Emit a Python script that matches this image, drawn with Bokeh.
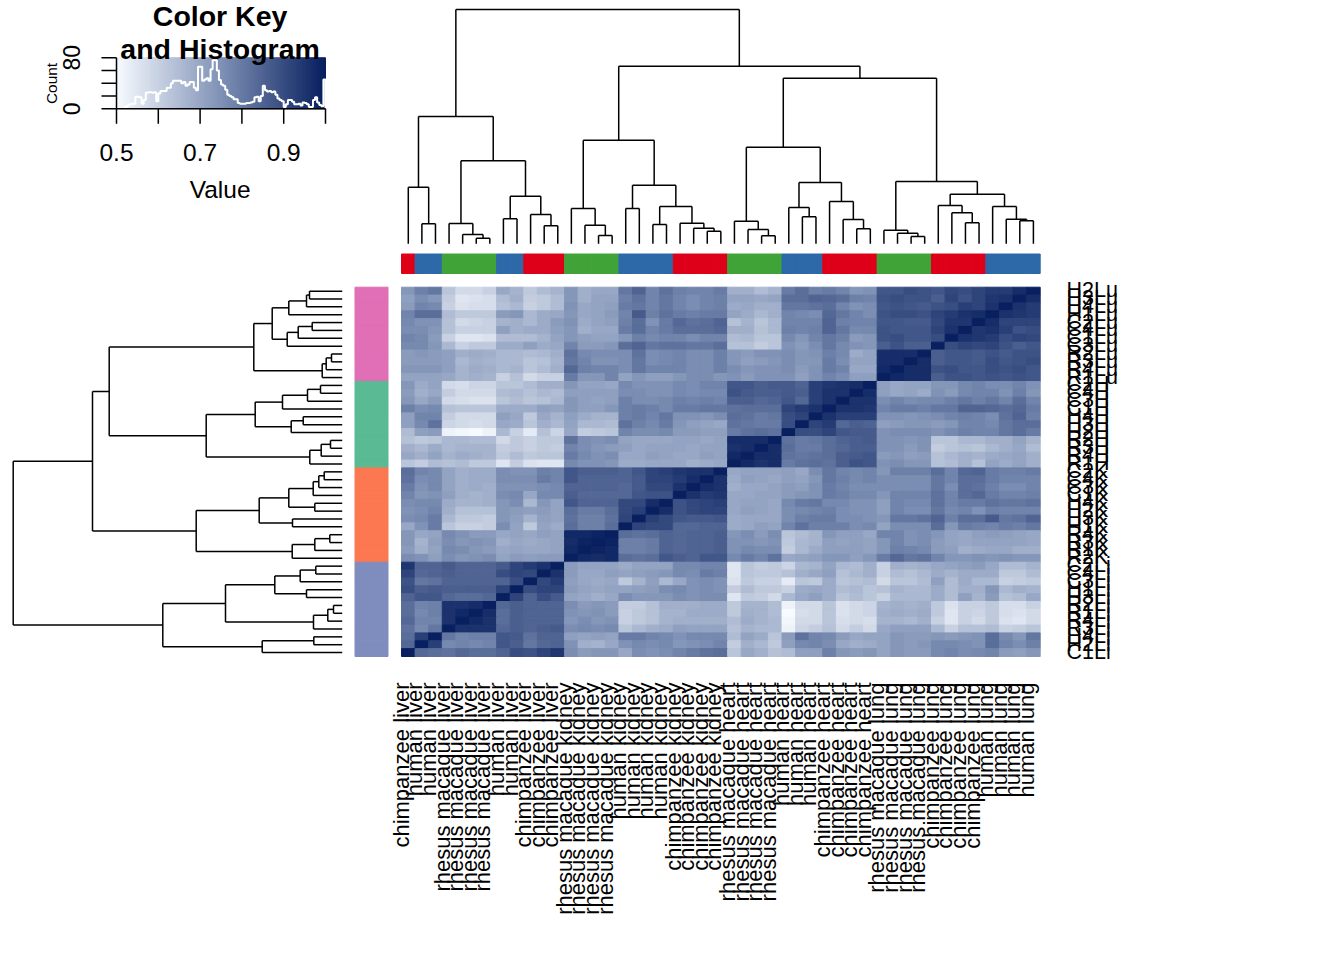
from math import pi
from bokeh.plotting import figure
from bokeh.models import ColumnDataSource, LinearColorMapper, Range1d
from bokeh.transform import transform
from bokeh.core.properties import value
from bokeh.embed import file_html
from bokeh.resources import INLINE

# ---------- labels ----------
COL_LABELS = (["chimpanzee liver"] + ["human liver"] * 2 + ["rhesus macaque liver"] * 4
              + ["human liver"] * 2 + ["chimpanzee liver"] * 3
              + ["rhesus macaque kidney"] * 4 + ["human kidney"] * 4 + ["chimpanzee kidney"] * 4
              + ["rhesus macaque heart"] * 4 + ["human heart"] * 3 + ["chimpanzee heart"] * 4
              + ["rhesus macaque lung"] * 4 + ["chimpanzee lung"] * 4 + ["human lung"] * 4)
ROW_LABELS = ["H2Lu", "H3Lu", "H4Lu", "H1Lu", "C2Lu", "C4Lu", "C1Lu", "C3Lu", "R2Lu", "R3Lu", "R4Lu", "R1Lu",
              "C2H", "C4H", "C3H", "C1H", "H4H", "H3H", "H2H", "R2H", "R3H", "R4H", "R1H",
              "C2K", "C4K", "C3K", "C1K", "H4K", "H2K", "H3K", "H1K", "R4K", "R3K", "R1K", "R2K",
              "C2Li", "C4Li", "C3Li", "H1Li", "H3Li", "R2Li", "R1Li", "R4Li", "R3Li", "H4Li", "H2Li", "C1Li"]

# ---------- correlation x 100, lower triangle, one row per column index ----------
R46 = [74, 79,81, 63,58,58,60, 70,67, 62,65,67, 74,68,70,70, 81,85,78,82, 79,78,78,80, 68,68,65,67, 80,83,79, 80,78,74,75, 88,88,90,89, 88,91,90,92, 94,94,97,100]
R45 = [72, 76,74, 61,55,56,57, 65,68, 61,62,65, 74,68,71,71, 79,82,78,81, 78,76,78,79, 71,71,70,71, 83,83,85, 84,83,79,78, 89,90,89,89, 86,92,89,92, 95,96,100]
R44 = [73, 78,77, 60,56,57,57, 64,66, 60,62,65, 75,70,71,72, 80,81,78,81, 78,76,78,79, 69,70,68,68, 81,81,82, 83,78,75,76, 88,89,88,87, 89,90,93,92, 96,100]
R43 = [78, 83,83, 65,62,62,62, 73,74, 66,69,70, 74,70,71,73, 78,87,79,82, 80,79,80,80, 71,69,66,68, 78,77,76, 84,81,78,76, 89,90,90,89, 92,94,96,97, 100]
R42 = [77, 75,75, 64,58,59,60, 67,68, 66,69,73, 75,69,71,72, 79,83,75,80, 84,82,83,85, 64,67,63,66, 78,78,78, 85,79,78,78, 88,88,87,87, 91,95,95,100]
R41 = [76, 76,74, 64,60,60,60, 72,68, 69,69,72, 74,68,70,70, 80,83,78,80, 83,83,83,84, 68,68,64,66, 79,78,79, 85,81,77,77, 89,88,88,88, 92,96,100]
R40 = [78, 77,73, 60,55,55,56, 65,65, 65,67,71, 74,72,71,71, 74,79,77,78, 78,76,78,78, 65,66,63,63, 77,74,78, 81,79,73,74, 89,90,88,88, 90,100]
R39 = [77, 77,74, 66,60,62,62, 69,69, 72,69,70, 78,73,73,74, 83,85,81,82, 82,81,81,83, 64,64,61,63, 75,73,76, 81,77,75,74, 86,89,86,86, 100]
R38 = [73, 74,73, 72,68,69,68, 66,66, 65,66,68, 82,77,76,76, 76,82,76,77, 78,76,76,79, 74,73,75,75, 76,74,75, 79,77,69,71, 97,97,97,100]
R37 = [73, 73,73, 72,66,68,67, 66,66, 63,64,67, 81,78,75,75, 76,81,76,77, 78,76,76,79, 74,72,73,74, 76,74,74, 80,76,71,71, 97,97,100]
R36 = [74, 74,74, 72,67,69,68, 66,67, 63,65,68, 84,79,78,78, 76,81,78,78, 78,76,76,79, 76,74,75,75, 76,73,75, 80,78,70,70, 98,100]
R35 = [71, 71,71, 70,67,68,67, 60,64, 58,60,60, 80,74,74,78, 71,74,72,72, 74,76,76,74, 75,73,75,75, 75,72,75, 78,76,72,72, 100]
R34 = [74, 69,71, 58,57,59,59, 63,63, 65,68,68, 74,71,71,70, 77,75,75,75, 77,76,78,78, 88,88,86,87, 87,85,93, 95,96,97,100]
R33 = [73, 68,70, 61,58,58,58, 65,66, 64,66,65, 72,72,72,72, 76,76,75,75, 77,76,77,77, 89,87,86,86, 87,86,93, 96,96,100]
R32 = [74, 70,73, 58,57,56,56, 63,65, 63,64,66, 74,72,71,72, 79,76,76,77, 79,78,79,78, 86,86,84,85, 88,84,93, 96,100]
R31 = [79, 76,77, 64,63,63,63, 69,69, 69,72,71, 74,72,72,74, 79,80,79,77, 80,80,81,81, 82,83,83,83, 92,94,96, 100]
R30 = [72, 78,78, 61,58,58,58, 72,70, 62,70,67, 72,69,67,67, 79,80,78,81, 75,75,74,76, 83,82,80,81, 90,92,100]
R29 = [72, 77,82, 59,58,57,58, 70,69, 63,68,66, 71,66,66,65, 82,79,77,80, 74,72,71,70, 82,81,80,80, 90,100]
R28 = [65, 72,73, 52,51,50,52, 66,60, 54,64,59, 70,61,62,63, 78,76,76,77, 73,73,72,72, 80,82,83,82, 100]
R27 = [64, 62,63, 66,66,65,65, 58,62, 60,62,62, 82,76,75,76, 71,70,70,70, 71,71,70,71, 97,97,97,100]
R26 = [68, 66,69, 66,67,67,67, 61,62, 60,62,61, 78,76,74,73, 72,70,71,71, 71,70,71,71, 96,97,100]
R25 = [70, 68,71, 67,69,68,67, 62,65, 62,63,63, 80,77,75,76, 70,70,72,71, 70,70,72,71, 98,100]
R24 = [63, 61,65, 64,65,62,62, 55,61, 56,55,55, 77,75,75,74, 69,69,70,70, 70,68,69,70, 100]
R23 = [83, 78,77, 71,68,69,69, 76,75, 75,79,78, 88,86,86,86, 85,88,92,93, 95,96,96,100]
R22 = [82, 76,77, 71,68,69,69, 76,76, 76,80,78, 88,85,85,85, 85,87,92,92, 94,97,100]
R21 = [80, 75,77, 71,68,69,68, 75,75, 75,76,77, 85,85,85,85, 84,87,91,91, 96,100]
R20 = [78, 74,75, 72,68,67,68, 76,77, 70,77,77, 86,84,84,84, 84,88,89,89, 100]
R19 = [76, 77,77, 69,67,67,68, 74,76, 66,74,71, 88,85,85,85, 91,91,97,100]
R18 = [75, 76,78, 68,64,64,64, 74,73, 72,73,71, 83,80,80,83, 91,93,100]
R17 = [76, 77,80, 66,62,62,61, 74,72, 67,72,71, 82,79,79,82, 92,100]
R16 = [70, 75,80, 63,60,60,61, 76,71, 62,71,69, 83,79,79,83, 100]
R15 = [74, 70,71, 77,75,73,73, 70,71, 70,72,71, 98,98,99,100]
R14 = [74, 67,72, 76,74,75,74, 68,70, 69,70,71, 97,99,100]
R13 = [73, 68,71, 77,76,74,73, 70,71, 70,70,71, 98,100]
R12 = [76, 75,72, 76,74,75,76, 71,73, 72,73,73, 100]
R11 = [95, 85,85, 87,85,85,85, 87,92, 94,96,100]
R10 = [92, 84,85, 86,85,85,85, 90,92, 91,100]
R9 = [89, 81,82, 85,85,85,85, 85,90, 100]
R8 = [90, 86,87, 86,86,86,86, 92,100]
R7 = [85, 88,88, 84,83,83,84, 100]
R6 = [83, 78,79, 96,96,97,100]
R5 = [83, 77,79, 96,98,100]
R4 = [84, 78,78, 96,100]
R3 = [82, 77,81, 100]
R2 = [83, 93,100]
R1 = [84, 100]
R0 = [100]
CORR_ROWS = [R0,R1,R2,R3,R4,R5,R6,R7,R8,R9,R10,R11,R12,R13,R14,R15,R16,R17,R18,R19,R20,R21,R22,R23,
             R24,R25,R26,R27,R28,R29,R30,R31,R32,R33,R34,R35,R36,R37,R38,R39,R40,R41,R42,R43,R44,R45,R46]

# ---------- dendrograms: (height, left, right), integers are leaves ----------
TOP_TREE = (234.3,
    (127.3, (56.6, 0, (20, 1, 2)),
            (83, (20.3, 3, (9.3, 4, (5.6, 5, 6))),
                 (47.6, (25, 7, 8), (29.3, 9, (18, 10, 11))))),
    (177.6,
        (103.6, (35.3, 12, (18.6, 13, (8.3, 14, 15))),
                (58.6, (35.3, 16, 17), (37.3, (19.3, 18, 19), (20.6, 20, (15.6, 21, (12.6, 22, 23)))))),
        (165.6,
            (96.6, (22.6, 24, (14.3, 25, (8, 26, 27))),
                   (61.3, (36.3, 28, (27, 29, 30)), (42.3, 31, (24.3, 32, (15, 33, 34))))),
            (62.3, (13.6, 35, (10.6, 36, (7.3, 37, 38))),
                   (49.6, (38.3, 39, (31, 40, (21, 41, 42))), (37.3, 43, (24.6, 44, (23, 45, 46))))))))
LEFT_TREE = (329,
    (249.7,
        (233,
            (88.4, (70, (53.4, (35.7, (32.7, 0, 1), 2), 3),
                        (55, (44, (30, 4, 5), 6), 7)),
                   (20, (16, (10.7, 8, 9), 10), 11)),
            (136, (87, (59.7, (34.7, (21.7, 12, 13), 14), 15),
                       (51, (39, 16, 17), 18)),
                  (32.4, (21, (11.7, 19, 20), 21), 22))),
        (146, (83, (53.4, (29, (23.4, (18, 23, 24), 25), 26), (27.4, 27, 28)),
                   (49.7, 29, 30)),
              (50, (27.4, (12.4, 31, 32), 33), 34))),
    (179.4,
        (116.7, (67.4, (42, (26.4, 35, 36), 37), (35.7, 38, 39)),
                (28.7, (14.4, (8.7, 40, 41), 42), 43)),
        (80, (28.4, 44, 45), 46)))

# ---------- histogram of the key ----------
HIST_COUNTS = [0,0,0,1,3,5,7,8,8,19, 19,18,8,14,25,26,26,25,26,12,
               24,28,28,28,33,33,40,44,44,44, 44,40,42,36,38,42,42,33,29,66,
               66,44,46,48,44,62,76,76,60,45, 38,36,30,22,20,18,15,15,9,8,
               8,8,9,9,10,11,18,19,12,20, 36,29,27,28,26,27,22,16,14,12,
               3,7,14,14,11,7,7,8,5,10, 9,7,3,3,14,18,10,6,4,46]
KEY_XTICKS = [0.5, 0.6, 0.7, 0.8, 0.9, 1.0]
KEY_XLABELS = ["0.5", "0.7", "0.9"]
KEY_YTICKS = [0, 20, 40, 60, 80]
KEY_YLABELS = ["0", "80"]

SPECIES_COLORS = {"chimpanzee": "#de0019", "human": "#2d69a9", "rhesus": "#40a338"}
TISSUE_COLORS = {"Lu": "#e06fb6", "H": "#59ba93", "K": "#fb7850", "Li": "#7f8dbe"}
PALETTE_STOPS = [(0.0, (247, 251, 255)), (0.5, (128, 146, 182)), (1.0, (8, 32, 95))]

W, H, M = 1328, 944, 0


def mk(px_low, px_high, v_low, v_high, span0, span1):
    """Range whose values fall on the given page pixels over the frame span0..span1."""
    k = (v_high - v_low) / (px_high - px_low)
    return Range1d(start=v_low + (span0 - px_low) * k, end=v_low + (span1 - px_low) * k)


def rx(p0, p1, v0, v1):
    return mk(p0, p1, v0, v1, M, M + W)


def ry(p0, p1, v0, v1):
    return mk(p0, p1, v0, v1, M + H, M)


def ramp(t):
    for (a, ca), (b, cb) in zip(PALETTE_STOPS, PALETTE_STOPS[1:]):
        if t <= b:
            f = (t - a) / (b - a)
            return "#%02x%02x%02x" % tuple(round(x + (y - x) * f) for x, y in zip(ca, cb))
    return "#%02x%02x%02x" % PALETTE_STOPS[-1][1]


palette = [ramp(i / 255) for i in range(256)]
mapper = LinearColorMapper(palette=palette, low=0.5, high=1.0)

HEAT_L, HEAT_R, HEAT_T, HEAT_B = 401.0, 1039.7, 286.7, 656.0
N = len(COL_LABELS)
assert len(ROW_LABELS) == N

p = figure(width=W, height=H, output_backend="svg", toolbar_location=None,
           x_axis_location=None, y_axis_location=None,
           x_range=Range1d(M, M + W), y_range=Range1d(M + H, M),
           min_border=0, outline_line_color=None, tools="")
p.grid.visible = False
p.extra_x_ranges = {
    "hx": rx(HEAT_L, HEAT_R, 0, N),
    "lh": rx(341.7, 12.7, 0, 329),
    "kx": rx(116, 325, 0.5, 1.0),
}
p.extra_y_ranges = {
    "hy": ry(HEAT_T, HEAT_B, 0, N),
    "th": ry(243.3, 9, 0, 234.3),
    "ky": ry(108.3, 57.3, 0, 80),
}

# heat map
xs, ys, vs = [], [], []
for r in range(N):
    i = N - 1 - r
    for c in range(N):
        v = CORR_ROWS[i][c] if c <= i else CORR_ROWS[c][i]
        xs.append(c + 0.5); ys.append(r + 0.5); vs.append(v / 100)
heat = ColumnDataSource(dict(x=xs, y=ys, v=vs))
p.rect("x", "y", 1, 1, source=heat, x_range_name="hx", y_range_name="hy",
       fill_color=transform("v", mapper), line_color=transform("v", mapper), line_width=1)

# side bars
cs = ColumnDataSource(dict(x=[c + 0.5 for c in range(N)],
                           c=[SPECIES_COLORS[l.split()[0]] for l in COL_LABELS]))
p.vbar(x="x", width=1, bottom=253.5, top=273, source=cs, x_range_name="hx",
       fill_color="c", line_color="c", line_width=1)
rs = ColumnDataSource(dict(y=[r + 0.5 for r in range(N)],
                           c=[TISSUE_COLORS[l[2:]] for l in ROW_LABELS]))
p.hbar(y="y", height=1, left=354.5, right=387.5, source=rs, y_range_name="hy",
       fill_color="c", line_color="c", line_width=1)


def walk(node, out):
    if isinstance(node, int):
        return node + 0.5, 0
    h, a, b = node
    pa, ha = walk(a, out)
    pb, hb = walk(b, out)
    out.append((pa, h, pb, h))
    out.append((pa, ha, pa, h))
    out.append((pb, hb, pb, h))
    return (pa + pb) / 2, h


seg = []
walk(TOP_TREE, seg)
p.segment([s[0] for s in seg], [s[1] for s in seg], [s[2] for s in seg], [s[3] for s in seg],
          x_range_name="hx", y_range_name="th", line_color="black", line_width=1.5)
seg = []
walk(LEFT_TREE, seg)
p.segment([s[1] for s in seg], [s[0] for s in seg], [s[3] for s in seg], [s[2] for s in seg],
          x_range_name="lh", y_range_name="hy", line_color="black", line_width=1.5)

FONT = value("Liberation Sans")
p.text(x=[c + 0.5 for c in range(N)], y=[682] * N, text=COL_LABELS, x_range_name="hx",
       angle=pi / 2, text_align="right", text_baseline="alphabetic", x_offset=-7,
       text_font=FONT, text_font_size="22px", text_color="black")
p.text(x=[1066] * N, y=[r + 0.5 for r in range(N)], text=ROW_LABELS, y_range_name="hy",
       text_align="left", text_baseline="alphabetic", y_offset=-1,
       text_font=FONT, text_font_size="21.5px", text_color="black")

# colour key
nk = 256
kw = 0.5 / nk
key = ColumnDataSource(dict(x=[0.5 + (i + 0.5) * kw for i in range(nk)],
                            v=[0.5 + (i + 0.5) * kw for i in range(nk)]))
p.vbar(x="x", width=kw, bottom=0, top=80, source=key, x_range_name="kx", y_range_name="ky",
       fill_color=transform("v", mapper), line_color=transform("v", mapper), line_width=1)
nb = len(HIST_COUNTS)
edges = [0.5 + 0.5 * i / nb for i in range(nb + 1)]
sx, sy = [edges[0]], [0]
for i, cnt in enumerate(HIST_COUNTS):
    sx += [edges[i], edges[i + 1]]
    sy += [cnt, cnt]
sx.append(edges[-1]); sy.append(0)
p.line(sx, sy, x_range_name="kx", y_range_name="ky", line_color="white", line_width=2)

ky_per_px = 80 / (108.3 - 57.3)
kx_per_px = 0.5 / (325 - 116)
TICK = 15
p.segment(KEY_XTICKS, [0] * 6, KEY_XTICKS, [-TICK * ky_per_px] * 6, x_range_name="kx", y_range_name="ky",
          line_color="black", line_width=1.5)
p.segment([0.5], [0], [1.0], [0], x_range_name="kx", y_range_name="ky", line_color="black", line_width=1.5)
p.segment([0.5 - TICK * kx_per_px] * 5, KEY_YTICKS, [0.5] * 5, KEY_YTICKS, x_range_name="kx", y_range_name="ky",
          line_color="black", line_width=1.5)
p.segment([0.5], [0], [0.5], [80], x_range_name="kx", y_range_name="ky", line_color="black", line_width=1.5)
p.text(x=[float(s) for s in KEY_XLABELS], y=[152] * 3, text=KEY_XLABELS, x_range_name="kx",
       text_align="center", text_baseline="alphabetic", text_font=FONT, text_font_size="24.5px")
p.text(x=[71] * 2, y=[float(s) for s in KEY_YLABELS], text=KEY_YLABELS, y_range_name="ky",
       angle=pi / 2, text_align="center", text_baseline="alphabetic", text_font=FONT, text_font_size="23px")
p.text(x=[51], y=[83], text=["Count"], angle=pi / 2, text_align="center", text_baseline="alphabetic",
       text_font=FONT, text_font_size="15.4px")
p.text(x=[219.6], y=[189], text=["Value"], text_align="center", text_baseline="alphabetic",
       text_font=FONT, text_font_size="24.5px")
p.text(x=[219.6, 219.6], y=[15, 48], text=["Color Key", "and Histogram"], text_align="center",
       text_baseline="middle", text_font=FONT, text_font_size="28.5px", text_font_style="bold")

open("out.html", "w").write(file_html(p, INLINE))
